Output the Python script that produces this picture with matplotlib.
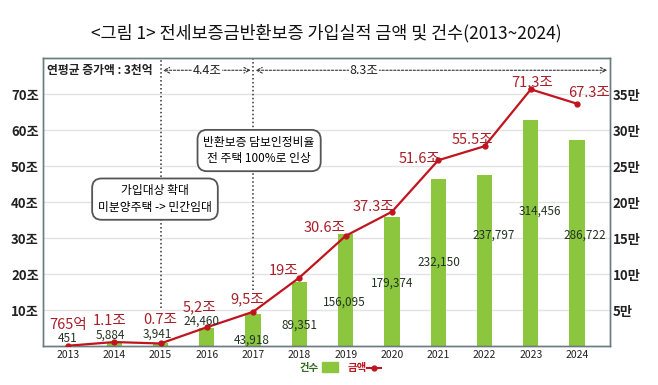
import matplotlib.pyplot as plt
from matplotlib.lines import Line2D

plt.rcParams['font.family'] = ['Noto Sans CJK KR', 'DejaVu Sans']

years = ['2013', '2014', '2015', '2016', '2017', '2018',
         '2019', '2020', '2021', '2022', '2023', '2024']
amount = [0.0765, 1.1, 0.7, 5.2, 9.5, 19, 30.6, 37.3, 51.6, 55.5, 71.3, 67.3]  # 조
amount_labels = ['765억', '1.1조', '0.7조', '5,2조', '9,5조', '19조', '30.6조',
                 '37.3조', '51.6조', '55.5조', '71,3조', '67.3조']
counts = [451, 5884, 3941, 24460, 43918, 89351, 156095, 179374,
          232150, 237797, 314456, 286722]
count_labels = ['451', '5,884', '3,941', '24,460', '43,918', '89,351', '156,095',
                '179,374', '232,150', '237,797', '314,456', '286,722']

# label placement (layout only): (x offset, y centre in 조 units)
amount_label_pos = [(0, 5.8), (-0.09, 6.9), (0, 7.2), (-0.15, 10.8), (-0.13, 13.1),
                    (-0.35, 20.8), (-0.45, 32.8), (-0.4, 38.6), (-0.4, 51.9),
                    (-0.26, 57.2), (0.02, 73.3), (0.25, 70.3)]
count_label_pos = [(0, 2.0), (-0.08, 2.9), (-0.06, 3.2), (-0.12, 6.9), (-0.03, 1.7),
                   (0, 5.8), (-0.03, 12.2), (0, 17.5), (0.02, 23.3), (0.2, 30.8),
                   (0.2, 37.5), (0.17, 30.8)]

red = '#c0141e'
lab_red = '#a8202a'
green = '#8cc63f'

fig = plt.figure(figsize=(6.58, 3.85), dpi=100)
ax = fig.add_axes([0.0653, 0.1013, 0.8617, 0.748])
ax2 = ax.twinx()
x = list(range(len(years)))

ax2.bar(x, counts, width=0.33, color=green, zorder=2)
ax2.set_ylim(0, 400000)
ax.set_ylim(0, 80)
ax.set_xlim(-0.54, 11.71)

ax.set_zorder(ax2.get_zorder() + 1)
ax.patch.set_visible(False)

for v in range(10, 80, 10):
    ax2.axhline(v * 5000, color='#e3e3e3', lw=1, zorder=0)

ax.plot(x, amount, color=red, lw=1.6, marker='o', ms=3.5, zorder=4)

for i in x:
    dx, yy = amount_label_pos[i]
    ax.text(i + dx, yy, amount_labels[i], color=lab_red,
            fontsize=10.5, ha='center', va='center', zorder=5)
    dx, yy = count_label_pos[i]
    ax.text(i + dx, yy, count_labels[i], color='#233423',
            fontsize=8.5, ha='center', va='center', zorder=5)

# period dividers
ax.vlines([2, 4], [10.5, 15.5], 80, colors='#333333', linestyles=(0, (1, 1.6)),
          lw=1.1, zorder=1)

ax.text(-0.45, 76.6, '연평균 증가액 : 3천억', fontsize=8.5, va='center', ha='left',
        color='#222222', fontweight='bold')
ax.annotate('', xy=(2.05, 76.6), xytext=(3.95, 76.6),
            arrowprops=dict(arrowstyle='<->', ls=(0, (2, 1.5)), lw=0.8,
                            color='#333333', shrinkA=0, shrinkB=0))
ax.text(3.0, 76.6, '4.4조', fontsize=9, ha='center', va='center',
        color='#222222', bbox=dict(fc='white', ec='none', pad=0.5))
ax.annotate('', xy=(4.05, 76.6), xytext=(11.65, 76.6),
            arrowprops=dict(arrowstyle='<->', ls=(0, (2, 1.5)), lw=0.8,
                            color='#333333', shrinkA=0, shrinkB=0))
ax.text(6.4, 76.6, '8.3조', fontsize=9, ha='center', va='center',
        color='#222222', bbox=dict(fc='white', ec='none', pad=0.5))

box = dict(boxstyle='round,pad=0.5,rounding_size=0.8', fc='white',
           ec='#555555', lw=1.3)
ax.text(1.88, 40.8, '가입대상 확대\n미분양주택 -> 민간임대', fontsize=8.5,
        ha='center', va='center', linespacing=1.35, bbox=box, zorder=6)
ax.text(4.13, 54.3, '반환보증 담보인정비율\n전 주택 100%로 인상', fontsize=8.5,
        ha='center', va='center', linespacing=1.35, bbox=box, zorder=6)

ax.set_xticks(x)
ax.set_xticklabels(years, fontsize=7.5, color='#222222')
ax.set_yticks(range(10, 80, 10))
ax.set_yticklabels([f'{v}조' for v in range(10, 80, 10)], fontsize=9.5,
                   fontweight='bold', color='#222222')
ax2.set_yticks(range(50000, 400000, 50000))
ax2.set_yticklabels([f'{v // 10000}만' for v in range(50000, 400000, 50000)],
                    fontsize=9.5, fontweight='bold', color='#222222')
ax.tick_params(length=0, pad=3)
ax2.tick_params(length=0, pad=2)
for a in (ax, ax2):
    for s in a.spines.values():
        s.set_color('#6b7b80')
        s.set_linewidth(1)

fig.text(0.496, 0.913, '<그림 1> 전세보증금반환보증 가입실적 금액 및 건수(2013~2024)',
         fontsize=12.5, ha='center', va='center', color='#111111')

# legend
fig.text(0.485, 0.045, '건수', fontsize=7.5, fontweight='bold', color='#2e6b1e',
         ha='right', va='center')
fig.patches.append(plt.Rectangle((0.49, 0.033), 0.024, 0.026, color=green,
                                 transform=fig.transFigure, figure=fig))
fig.text(0.528, 0.045, '금액', fontsize=7.5, fontweight='bold', color=red,
         ha='left', va='center')
fig.lines.append(Line2D([0.557, 0.579], [0.045, 0.045], color=red, lw=1.5,
                        transform=fig.transFigure))
fig.lines.append(Line2D([0.568], [0.045], color=red, marker='o', ms=3.5,
                        transform=fig.transFigure))

fig.savefig('out.png', dpi=100)
